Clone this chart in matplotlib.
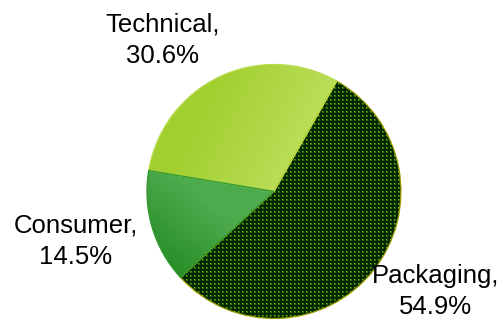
import numpy as np
import matplotlib.pyplot as plt
from matplotlib.colors import LinearSegmentedColormap

plt.rcParams['font.family'] = ['Liberation Sans', 'DejaVu Sans']

# market share by application
labels = ['Packaging', 'Technical', 'Consumer']
shares = [54.9, 30.6, 14.5]

fig = plt.figure(figsize=(5.04, 3.21), dpi=100)
ax = fig.add_axes([0, 0, 1, 1])

wedges, _ = ax.pie(shares, startangle=-137.3, counterclock=True, radius=1,
                   wedgeprops=dict(linewidth=0))
ax.set_aspect('auto')
ax.set_xlim(-2.157, 1.811)
ax.set_ylim(-1.020, 1.508)
ax.axis('off')

# pixel grid covering the pie (127 px per unit radius)
n = 256
half = n / 2 / 127
xs = np.linspace(-half, half, n)
gx, gy = np.meshgrid(xs, xs[::-1])
ext = (-half, half, -half, half)

# Packaging: dark green with a dot screen
tex = np.zeros((n, n, 3))
tex[:] = (0.0, 0.16, 0.0)
ii, jj = np.indices((n, n))
soft = ((ii % 4) < 2) & ((jj % 4) < 2)
tex[soft] = (0.20, 0.40, 0.0)
core = ((ii % 4) == 0) & ((jj % 4) == 0)
tex[core] = (0.50, 0.76, 0.0)
im = ax.imshow(tex, extent=ext, interpolation='nearest', zorder=0)
im.set_clip_path(wedges[0])

# Technical: yellow-green shading, darker towards the upper left
tech_cmap = LinearSegmentedColormap.from_list('tech', ['#a2cf30', '#c4e366'])
t = np.clip((gx - 0.5 * gy + 0.9) / 1.3, 0, 1)
im = ax.imshow(t, extent=ext, cmap=tech_cmap, vmin=0, vmax=1, zorder=0)
im.set_clip_path(wedges[1])

# Consumer: mid green, darker towards the lower left
cons_cmap = LinearSegmentedColormap.from_list('cons', ['#1c861c', '#4eab4e'])
c = np.clip((gx + 1.0) * 0.8 + (gy + 0.7) * 1.0, 0, 1)
im = ax.imshow(c, extent=ext, cmap=cons_cmap, vmin=0, vmax=1, zorder=0)
im.set_clip_path(wedges[2])

edge_colors = ['#9c9c00', '#b8dc4c', '#2e962e']
for w, ec in zip(wedges, edge_colors):
    w.set_facecolor('none')
    w.set_edgecolor(ec)
    w.set_linewidth(0.9)
    w.set_zorder(2)

label_pos = [(1.27, -0.79), (-0.874, 1.19), (-1.56, -0.39)]
for lab, val, (x, y) in zip(labels, shares, label_pos):
    ax.text(x, y, f'{lab},\n{val:.1f}%', ha='center', va='center',
            fontsize=18.5, linespacing=1.38, color='black')

fig.savefig('out.png', dpi=100)
